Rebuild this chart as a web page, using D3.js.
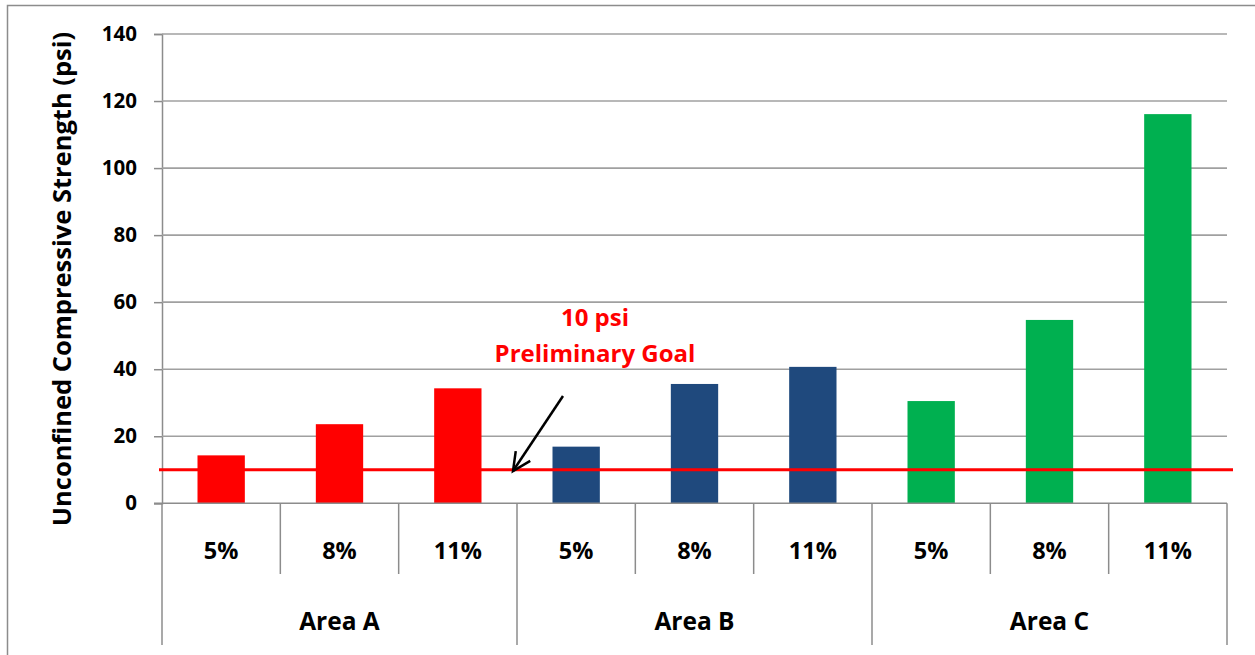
<!DOCTYPE html>
<html>
<head>
<meta charset="utf-8">
<script src="https://cdn.jsdelivr.net/npm/d3@7"></script>
<style>
  html, body { margin: 0; padding: 0; background: #fff; }
  svg { display: block; }
  text { font-family: "Open Sans", Lato, sans-serif; font-weight: 700; fill: #000; }
</style>
</head>
<body>
<svg id="chart" width="1255" height="655"></svg>
<script>
// Unconfined compressive strength by additive content, per area
const areas = ["Area A", "Area B", "Area C"];
const contents = ["5%", "8%", "11%"];
const areaColors = ["#FF0000", "#1F497D", "#00B050"];
const strengthA = [14.3, 23.6, 34.3];
const strengthB = [16.9, 35.6, 40.7];
const strengthC = [30.5, 54.7, 116.1];
const yTicks = [0, 20, 40, 60, 80, 100, 120, 140];
const goalValue = 10;
const goalLabel = ["10 psi", "Preliminary Goal"];
const yTitle = "Unconfined Compressive Strength (psi)";

const FONT = "'Open Sans', Lato, sans-serif";

const seriesByArea = [strengthA, strengthB, strengthC];
const rows = [];
areas.forEach((a, i) => contents.forEach((c, j) => {
  rows.push({ key: a + "|" + c, area: a, content: c, value: seriesByArea[i][j], color: areaColors[i] });
}));

const svg = d3.select("#chart");
const plot = { left: 162, right: 1227, top: 34, bottom: 503.3 };

const x = d3.scaleBand().domain(rows.map(d => d.key)).range([plot.left, plot.right]).paddingInner(0.6).paddingOuter(0.3);
const xCell = d3.scaleBand().domain(rows.map(d => d.key)).range([plot.left, plot.right]).padding(0);
const y = d3.scaleLinear().domain([0, 140]).range([plot.bottom, plot.top]);

// chart frame
svg.append("rect").attr("x", 7.5).attr("y", 5.5).attr("width", 1260).attr("height", 660)
  .attr("fill", "none").attr("stroke", "#8c8c8c").attr("stroke-width", 1.5);

// y axis
const yAxis = d3.axisLeft(y).tickValues(yTicks).tickSize(8).tickPadding(17).tickFormat(d3.format("d"));
const gy = svg.append("g").attr("transform", `translate(${plot.left},0)`).call(yAxis);
gy.select(".domain").attr("stroke", "#8c8c8c").attr("stroke-width", 1.5);
gy.selectAll(".tick line").attr("stroke", "#8c8c8c").attr("stroke-width", 1.5);
gy.selectAll(".tick text").attr("font-size", 20.5).attr("font-family", FONT).attr("font-weight", 700).attr("fill", "#000");

// horizontal gridlines
svg.append("g").selectAll("line").data(yTicks.filter(t => t > 0)).join("line")
  .attr("x1", plot.left).attr("x2", plot.right)
  .attr("y1", d => y(d)).attr("y2", d => y(d))
  .attr("stroke", "#a0a0a0").attr("stroke-width", 1.6);

// bars
svg.append("g").selectAll("rect").data(rows).join("rect")
  .attr("x", d => x(d.key)).attr("width", x.bandwidth())
  .attr("y", d => y(d.value)).attr("height", d => y(0) - y(d.value))
  .attr("fill", d => d.color);

// x axis baseline
svg.append("line").attr("x1", plot.left - 8).attr("x2", plot.right)
  .attr("y1", y(0)).attr("y2", y(0)).attr("stroke", "#8c8c8c").attr("stroke-width", 1.5);

// category dividers: short between contents, long between areas
const bounds = d3.range(rows.length + 1);
svg.append("g").selectAll("line").data(bounds).join("line")
  .attr("x1", i => i < rows.length ? xCell(rows[i].key) : plot.right)
  .attr("x2", i => i < rows.length ? xCell(rows[i].key) : plot.right)
  .attr("y1", y(0)).attr("y2", i => (i % contents.length === 0) ? 645 : 574)
  .attr("stroke", "#8c8c8c").attr("stroke-width", 1.5);

// content labels
svg.append("g").selectAll("text").data(rows).join("text")
  .attr("x", d => xCell(d.key) + xCell.bandwidth() / 2).attr("y", 559)
  .attr("text-anchor", "middle").attr("font-size", 23.5)
  .text(d => d.content);

// area labels
svg.append("g").selectAll("text").data(areas).join("text")
  .attr("x", (a, i) => {
    const first = xCell(a + "|" + contents[0]);
    const last = xCell(a + "|" + contents[contents.length - 1]) + xCell.bandwidth();
    return (first + last) / 2;
  })
  .attr("y", 630).attr("text-anchor", "middle").attr("font-size", 24.5)
  .text(d => d);

// y axis title
svg.append("text").attr("transform", "translate(70.5,279) rotate(-90)")
  .attr("text-anchor", "middle").attr("font-size", 25.5).text(yTitle);

// goal line
svg.append("line").attr("x1", plot.left - 3).attr("x2", plot.right + 6)
  .attr("y1", y(goalValue)).attr("y2", y(goalValue))
  .attr("stroke", "#FF0000").attr("stroke-width", 3);

// goal annotation
svg.append("g").selectAll("text").data(goalLabel).join("text")
  .attr("x", 595).attr("y", (d, i) => 326 + i * 36)
  .attr("text-anchor", "middle").attr("font-size", 24)
  .style("fill", "#FF0000").text(d => d);

// arrow pointing at the goal line
const tip = [513, 471], tail = [563, 396];
const ang = Math.atan2(tip[1] - tail[1], tip[0] - tail[0]);
const headLen = 20, spread = 0.45;
svg.append("line").attr("x1", tail[0]).attr("y1", tail[1]).attr("x2", tip[0]).attr("y2", tip[1])
  .attr("stroke", "#000").attr("stroke-width", 2.5);
svg.append("path")
  .attr("d", d3.line()([
    [tip[0] - headLen * Math.cos(ang - spread), tip[1] - headLen * Math.sin(ang - spread)],
    tip,
    [tip[0] - headLen * Math.cos(ang + spread), tip[1] - headLen * Math.sin(ang + spread)]
  ]))
  .attr("fill", "none").attr("stroke", "#000").attr("stroke-width", 2.5);
</script>
</body>
</html>
